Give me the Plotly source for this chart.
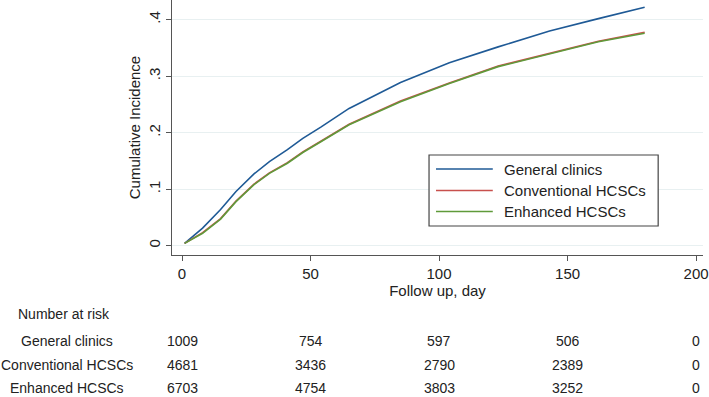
import plotly.graph_objects as go

# ---- data ----
days = [1, 8, 15, 21, 28, 34, 41, 47, 54, 65, 85, 104, 123, 143, 162, 180]
general = [0.004, 0.031, 0.064, 0.096, 0.127, 0.149, 0.170, 0.190, 0.210, 0.243, 0.289, 0.324, 0.352, 0.380, 0.402, 0.422]
conventional = [0.004, 0.023, 0.048, 0.079, 0.109, 0.129, 0.147, 0.166, 0.185, 0.215, 0.256, 0.288, 0.318, 0.341, 0.362, 0.378]
enhanced = [0.004, 0.022, 0.047, 0.078, 0.108, 0.128, 0.146, 0.165, 0.184, 0.214, 0.255, 0.287, 0.317, 0.340, 0.361, 0.376]

series_names = ["General clinics", "Conventional HCSCs", "Enhanced HCSCs"]
series_colors = ["#1f5a96", "#c8504d", "#5f9a3a"]

x_ticks = [0, 50, 100, 150, 200]
y_ticks = [0, 0.1, 0.2, 0.3, 0.4]
y_ticktext = ["0", ".1", ".2", ".3", ".4"]

risk_times = [0, 50, 100, 150, 200]
risk_general = [1009, 754, 597, 506, 0]
risk_conventional = [4681, 3436, 2790, 2389, 0]
risk_enhanced = [6703, 4754, 3803, 3252, 0]

FONT = "Liberation Sans, Arial, sans-serif"

# ---- layout geometry (pixels) ----
W, H = 709, 397
L, R, T, B = 172, 4, 0, 142
PW, PH = W - L - R, H - T - B


def pxx(x):
    return (x - L) / PW


def pxy(y):
    return (H - B - y) / PH


fig = go.Figure()
for name, vals, col in zip(series_names, [general, conventional, enhanced], series_colors):
    fig.add_trace(go.Scatter(x=days, y=vals, mode="lines", name=name,
                             line=dict(color=col, width=1.6), showlegend=False))

fig.update_layout(
    width=W, height=H,
    margin=dict(l=L, r=R, t=T, b=B),
    paper_bgcolor="white", plot_bgcolor="white",
    font=dict(family=FONT, size=15, color="#222222"),
    xaxis=dict(range=[-3.9, 202.7], tickvals=x_ticks, ticks="outside", ticklen=5,
               tickcolor="#555555", showline=True, linecolor="#555555", linewidth=1.3,
               showgrid=False, zeroline=False, tickfont=dict(size=15),
               ticklabeloverflow="allow",
               title=dict(text="Follow up, day", font=dict(size=15), standoff=2)),
    yaxis=dict(range=[-0.0165, 0.435], tickvals=y_ticks, ticktext=y_ticktext,
               tickangle=-90, ticks="outside", ticklen=5, tickcolor="#555555",
               showline=True, linecolor="#555555", linewidth=1.3,
               showgrid=True, gridcolor="#e8f0f1", gridwidth=1, zeroline=False,
               tickfont=dict(size=15),
               title=dict(text="Cumulative Incidence", font=dict(size=15), standoff=1)),
)

# ---- manual legend ----
box_l, box_r, box_t, box_b = 430, 660, 155, 226
fig.add_shape(type="rect", xref="paper", yref="paper",
              x0=pxx(box_l), x1=pxx(box_r), y0=pxy(box_b), y1=pxy(box_t),
              line=dict(color="#444444", width=1.2), fillcolor="white", layer="above")
item_y = [169, 190.5, 211.5]
for name, col, yy in zip(series_names, series_colors, item_y):
    fig.add_shape(type="line", xref="paper", yref="paper",
                  x0=pxx(437), x1=pxx(494), y0=pxy(yy), y1=pxy(yy),
                  line=dict(color=col, width=1.6), layer="above")
    fig.add_annotation(xref="paper", yref="paper", x=pxx(503), y=pxy(yy),
                       text=name, showarrow=False, xanchor="left", yanchor="middle",
                       font=dict(size=15, family=FONT, color="#222222"))

# ---- number at risk table ----
fig.add_annotation(xref="paper", yref="paper", x=pxx(15), y=pxy(314),
                   text="Number at risk", showarrow=False, xanchor="left", yanchor="middle",
                   font=dict(size=14, family=FONT, color="#222222"))
row_y = [341, 365, 388]
for name, counts, yy in zip(series_names, [risk_general, risk_conventional, risk_enhanced], row_y):
    fig.add_annotation(xref="paper", yref="paper", x=pxx(67), y=pxy(yy),
                       text=name, showarrow=False, xanchor="center", yanchor="middle",
                       font=dict(size=14, family=FONT, color="#222222"))
    for t, c in zip(risk_times, counts):
        fig.add_annotation(xref="x", yref="paper", x=t, y=pxy(yy),
                           text=str(c), showarrow=False, xanchor="center", yanchor="middle",
                           font=dict(size=14, family=FONT, color="#222222"))

fig.write_html("out.html", config={"displayModeBar": False},
               post_script="document.body.style.margin='0';document.body.style.overflow='hidden';")
